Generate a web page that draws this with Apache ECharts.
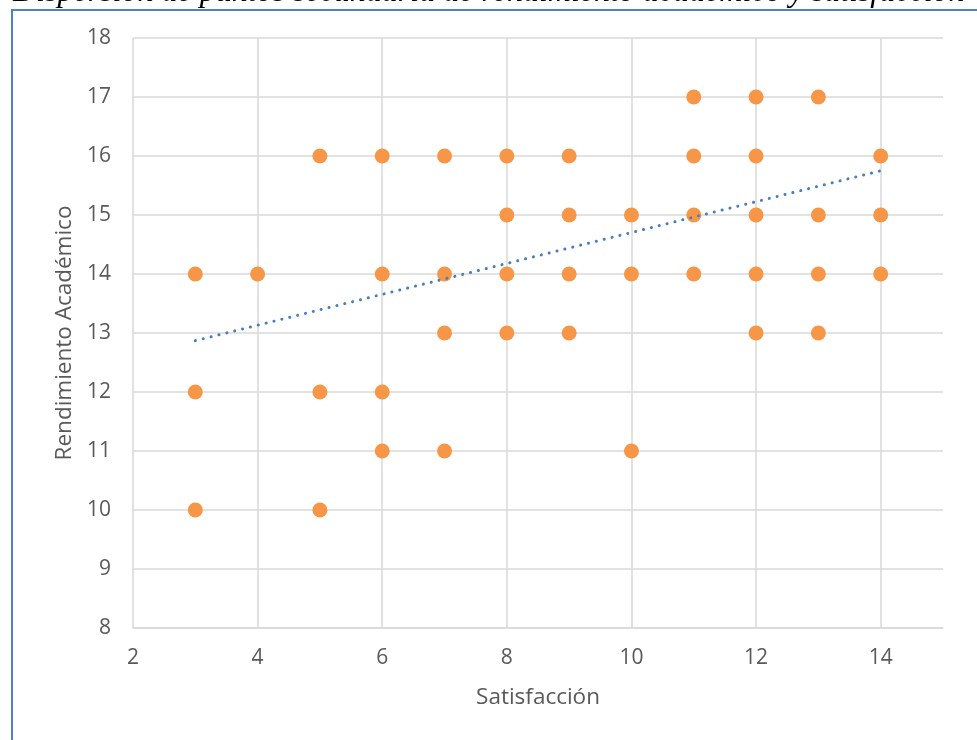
<!DOCTYPE html>
<html>
<head>
<meta charset="utf-8">
<script src="https://cdn.jsdelivr.net/npm/echarts@6/dist/echarts.min.js"></script>
<style>
  html, body { margin: 0; padding: 0; background: #fff; }
  #chart { width: 977px; height: 740px; }
</style>
</head>
<body>
<div id="chart"></div>
<script>
// points: [satisfaccion, rendimiento]
const satisfaccion = [11, 12, 13,
  5, 6, 7, 8, 9, 11, 12, 14,
  8, 9, 10, 11, 12, 13, 14,
  3, 4, 6, 7, 8, 9, 10, 11, 12, 13, 14,
  7, 8, 9, 12, 13,
  3, 5, 6,
  6, 7, 10,
  3, 5];
const rendimiento = [17, 17, 17,
  16, 16, 16, 16, 16, 16, 16, 16,
  15, 15, 15, 15, 15, 15, 15,
  14, 14, 14, 14, 14, 14, 14, 14, 14, 14, 14,
  13, 13, 13, 13, 13,
  12, 12, 12,
  11, 11, 11,
  10, 10];

// linear trend line (endpoints as drawn)
const trendX = [3, 14];
const trendY = [12.87, 15.75];

const titleText = 'Dispersión de puntos secundaria de rendimiento académico y satisfacción';
const xName = 'Satisfacción';
const yName = 'Rendimiento Académico';

const txt = '#595959';
const gridCol = '#D9D9D9';
const fnt = 'Open Sans';

const chart = echarts.init(document.getElementById('chart'));

chart.setOption({
  animation: false,
  backgroundColor: '#fff',
  grid: { left: 133, right: 34, top: 38, bottom: 112 },
  graphic: [
    {
      type: 'text', left: 13, top: -23, silent: true,
      style: { text: titleText, font: 'italic 32px "Liberation Serif"', fill: '#000' }
    },
    {
      type: 'rect', silent: true, z: -1,
      shape: { x: 12, y: 10, width: 1100, height: 1000 },
      style: { fill: 'none', stroke: '#5081C3', lineWidth: 2 }
    }
  ],
  xAxis: {
    type: 'value', min: 2, max: 15, interval: 2,
    name: xName, nameLocation: 'middle', nameGap: 58,
    nameTextStyle: { color: txt, fontSize: 22.5, fontFamily: fnt },
    axisLine: { show: true, lineStyle: { color: gridCol, width: 1.5 } },
    axisTick: { show: false },
    axisLabel: { color: txt, fontSize: 21, fontFamily: fnt, margin: 20, showMaxLabel: false },
    splitLine: { show: true, showMaxLine: false, lineStyle: { color: gridCol, width: 1.5 } }
  },
  yAxis: {
    type: 'value', min: 8, max: 18, interval: 1,
    name: yName, nameLocation: 'middle', nameGap: 57,
    nameTextStyle: { color: txt, fontSize: 22.5, fontFamily: fnt },
    axisLine: { show: false },
    axisTick: { show: false },
    axisLabel: { color: txt, fontSize: 21, fontFamily: fnt, margin: 22 },
    splitLine: { show: true, lineStyle: { color: gridCol, width: 1.5 } }
  },
  series: [
    {
      type: 'scatter',
      symbolSize: 15,
      itemStyle: { color: '#F79646', opacity: 1 },
      data: satisfaccion.map((x, i) => [x, rendimiento[i]]),
      z: 2
    },
    {
      type: 'line',
      symbol: 'none',
      silent: true,
      lineStyle: { color: '#4A7EBB', width: 3, type: [0.1, 8], cap: 'round' },
      data: trendX.map((x, i) => [x, trendY[i]]),
      z: 3
    }
  ]
});
</script>
</body>
</html>
